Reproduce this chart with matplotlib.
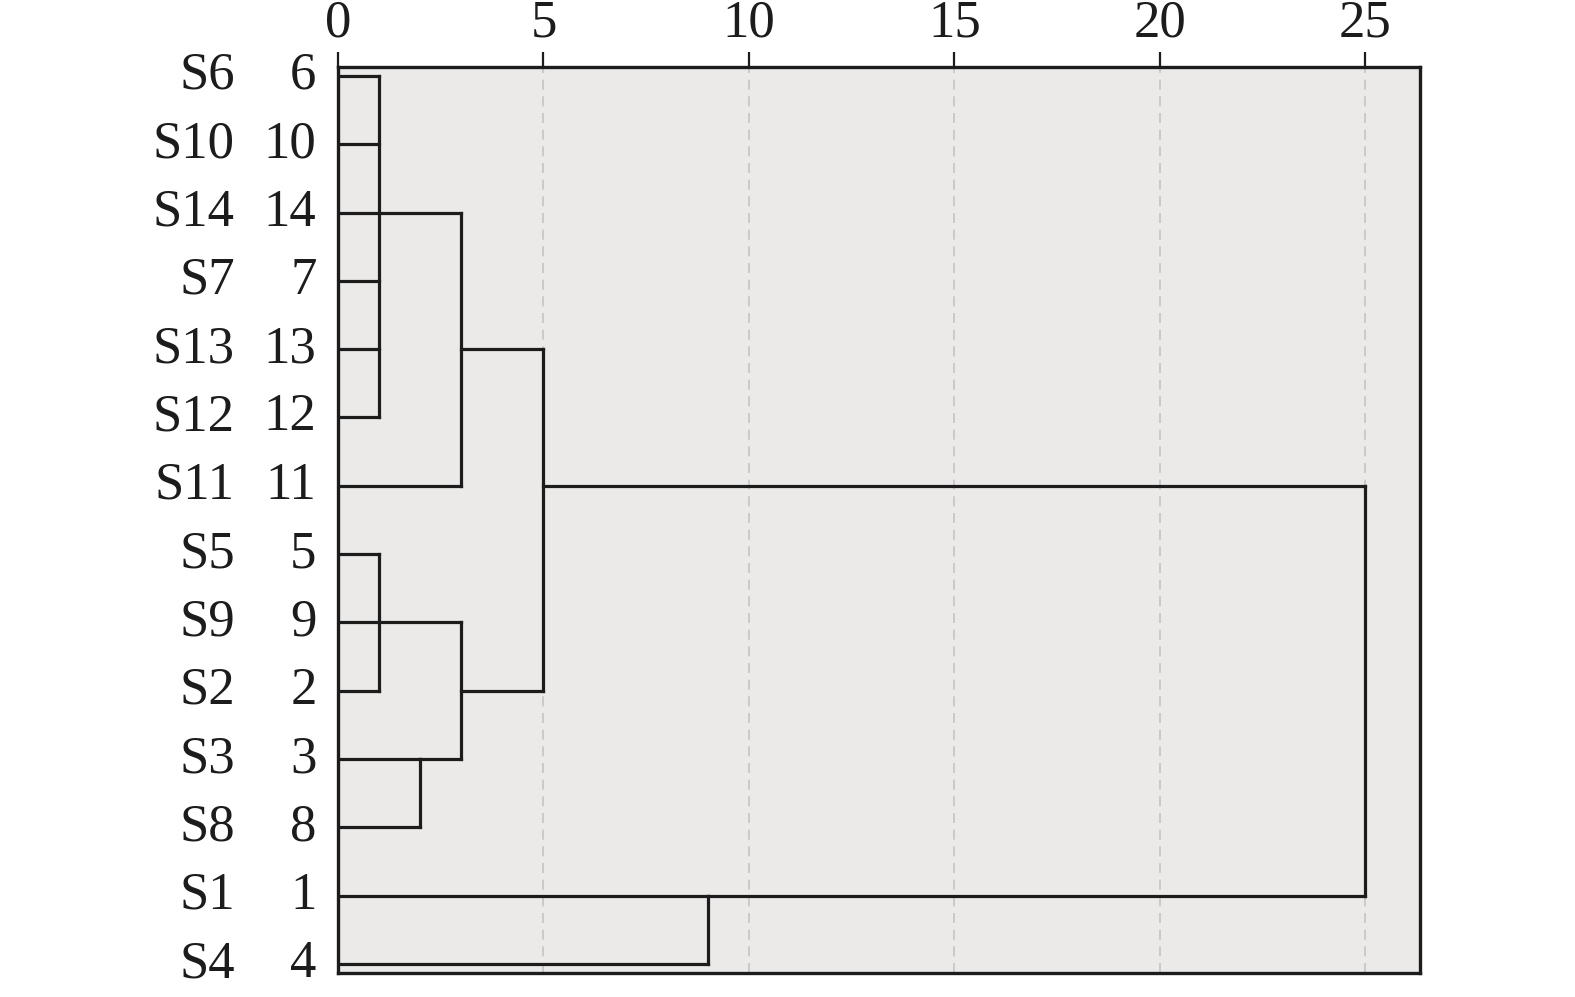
import matplotlib
matplotlib.use("Agg")
import matplotlib.pyplot as plt
from matplotlib.transforms import blended_transform_factory

# leaf order top -> bottom
leaf_labels = ["S6", "S10", "S14", "S7", "S13", "S12", "S11",
               "S5", "S9", "S2", "S3", "S8", "S1", "S4"]
leaf_numbers = ["6", "10", "14", "7", "13", "12", "11",
                "5", "9", "2", "3", "8", "1", "4"]

# merges (SPSS-style rescaled distance), children by name, new cluster named c0, c1, ...
merge_children = [
    ["S6", "S10", "S14", "S7", "S13", "S12"],
    ["S5", "S9", "S2"],
    ["S3", "S8"],
    ["c0", "S11"],
    ["c1", "c2"],
    ["c3", "c4"],
    ["S1", "S4"],
    ["c5", "c6"],
]
merge_heights = [1, 1, 2, 3, 3, 5, 9, 25]
merge_stem_rows = [3, 9, 11, 5, 10, 7, 13, 7]  # row where the cluster's line leaves

xticks = [0, 5, 10, 15, 20, 25]

plt.rcParams["font.family"] = ["Liberation Serif", "DejaVu Serif"]

fig = plt.figure(figsize=(15.75, 9.97), dpi=100)
ax = fig.add_axes([0.2146, 0.0241, 0.6870, 0.9087])
ax.set_facecolor("#ebeae8")

line_kw = dict(color="#1c1c1c", lw=2.3, solid_capstyle="projecting", zorder=3)

# positions of every node: (height, stem row)
nodes = {name: (0.0, i + 1) for i, name in enumerate(leaf_labels)}
for k, children in enumerate(merge_children):
    h = merge_heights[k]
    rows = []
    for c in children:
        ch, crow = nodes[c]
        ax.plot([ch, h], [crow, crow], **line_kw)
        rows.append(crow)
    ax.plot([h, h], [min(rows), max(rows)], **line_kw)
    nodes["c%d" % k] = (h, merge_stem_rows[k])

ax.set_xlim(0, 26.33)
ax.set_ylim(len(leaf_labels) + 0.13, 0.87)

for x in xticks[1:]:
    ax.axvline(x, color="#c4c4c4", lw=1.2, ls=(0, (6, 4)), zorder=1)

ax.xaxis.tick_top()
ax.set_xticks(xticks)
ax.set_xticklabels([str(v) for v in xticks])
ax.tick_params(axis="x", direction="out", length=11, width=1.6,
               labelsize=38, pad=3, colors="#1c1c1c")
ax.set_yticks([])

for sp in ax.spines.values():
    sp.set_color("#1c1c1c")
    sp.set_linewidth(2.4)

trans = blended_transform_factory(fig.transFigure, ax.transData)
for i, (lab, num) in enumerate(zip(leaf_labels, leaf_numbers)):
    ax.text(0.149, i + 1, lab, transform=trans, ha="right", va="center",
            fontsize=38, color="#1c1c1c")
    ax.text(0.201, i + 1, num, transform=trans, ha="right", va="center",
            fontsize=38, color="#1c1c1c")

fig.savefig("out.png", dpi=100, facecolor="white")
